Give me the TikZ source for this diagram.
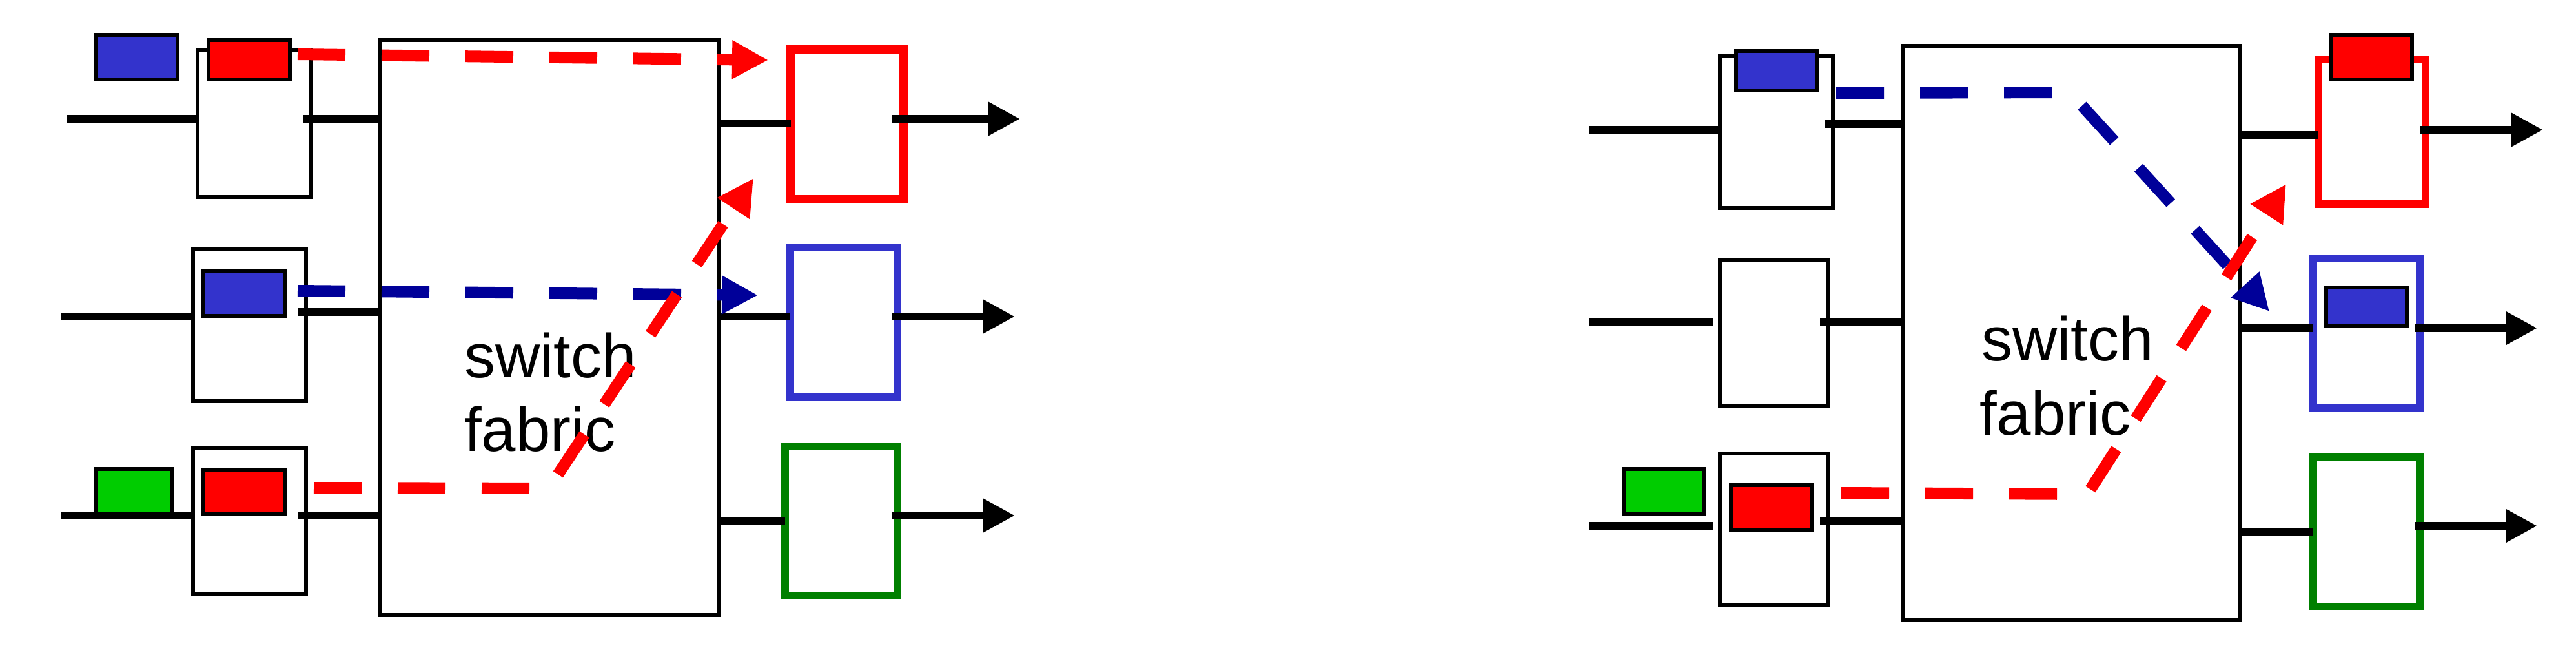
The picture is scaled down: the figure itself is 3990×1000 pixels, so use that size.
\documentclass[tikz,border=0pt]{standalone}
\usepackage{fontspec}
\setmainfont{Liberation Sans}
\usetikzlibrary{arrows.meta,calc}
\definecolor{pred}{RGB}{255,0,0}
\definecolor{pblue}{RGB}{51,51,204}
\definecolor{dblue}{RGB}{0,0,153}
\definecolor{pgreen}{RGB}{0,204,0}
\definecolor{dgreen}{RGB}{0,128,0}
\begin{document}
\begin{tikzpicture}[x=1pt,y=-1pt,
 wire/.style={line width=12.5pt},
 outwire/.style={wire,-{Triangle[length=49pt,width=49pt]}},
 portbox/.style={draw,line width=6pt,inner sep=0pt,outer sep=0pt},
 fabbox/.style={draw,line width=6pt,inner sep=0pt,outer sep=0pt},
 packet/.style={draw,line width=6pt,inner sep=0pt,outer sep=0pt},
 outbox/.style={draw,line width=12.5pt,inner sep=0pt,outer sep=0pt},
 flow/.style={line width=18pt,dash pattern=on 74pt off 56pt,-{Triangle[length=56pt,width=56pt]}},
 lbl/.style={inner sep=0pt,anchor=base west,font=\fontsize{96}{114}\selectfont}
]
\useasboundingbox[fill=white] (0,0) rectangle (3990,1000);

% ---------------- LEFT PANEL ----------------
\node[fabbox,minimum width=524pt,minimum height=890pt] (fabL) at (851,507) {};
\node[portbox,minimum width=176pt,minimum height=227pt] (inL1) at (394,191.5) {};
\node[portbox,minimum width=175pt,minimum height=235pt] (inL2) at (386.5,503.5) {};
\node[portbox,minimum width=175pt,minimum height=226pt] (inL3) at (386.5,806) {};
\node[outbox,draw=pred,minimum width=175pt,minimum height=232pt] (outL1) at (1312,192.5) {};
\node[outbox,draw=pblue,minimum width=166pt,minimum height=232pt] (outL2) at (1307,499) {};
\node[outbox,draw=dgreen,minimum width=174pt,minimum height=231pt] (outL3) at (1303,806.5) {};

\coordinate (iL1) at (104,184);
\coordinate (iL2) at (95,490);
\coordinate (iL3) at (95,798);
\draw[wire] (iL1) -- (iL1 -| inL1.west);
\draw[wire] (iL2) -- (iL2 -| inL2.west);
\draw[wire] (iL3) -- (iL3 -| inL3.west);
\draw[wire] ($(iL1 -| inL1.east)+(-13,0)$) -- (iL1 -| fabL.west);
\draw[wire] ($(iL2 -| inL2.east)+(-13,-7)$) -- ($(iL2 -| fabL.west)+(0,-7)$);
\draw[wire] ($(iL3 -| inL3.east)+(-13,0)$) -- (iL3 -| fabL.west);

\coordinate (oL1) at (1580,184);
\coordinate (oL2) at (1572,490);
\coordinate (oL3) at (1572,798);
\draw[wire] ($(fabL.east |- oL1)+(0,7)$) -- ($(outL1.west |- oL1)+(0,7)$);
\draw[wire] (fabL.east |- oL2) -- (outL2.west |- oL2);
\draw[wire] ($(fabL.east |- oL3)+(0,8)$) -- ($(outL3.west |- oL3)+(0,8)$);
\draw[outwire] ($(outL1.east |- oL1)+(-18,0)$) -- (oL1);
\draw[outwire] ($(outL2.east |- oL2)+(-8,0)$) -- (oL2);
\draw[outwire] ($(outL3.east |- oL3)+(-8,0)$) -- (oL3);

\node[packet,fill=pblue,minimum width=126pt,minimum height=69pt] (pL0) at (212,88.5) {};
\node[packet,fill=pred,minimum width=126pt,minimum height=61pt] (pL1) at (386,93) {};
\node[packet,fill=pblue,minimum width=126pt,minimum height=70pt] (pL2) at (378,454) {};
\node[packet,fill=pred,minimum width=126pt,minimum height=68pt] (pL3) at (378,761) {};
\node[packet,fill=pgreen,minimum width=118pt,minimum height=69pt] (pL4) at (208,760.5) {};

\node[lbl] (swL1) at (719,584) {switch};
\node[lbl] (swL2) at (719,698) {fabric};

\coordinate (tL1) at (1190,93);
\coordinate (tL2) at (1174,457);
\coordinate (tL3) at (1167,276);
\draw[flow,pred] ($(pL1.east)+(12,-9)$) -- (tL1);
\draw[flow,dblue] ($(pL2.east)+(20,-4)$) -- (tL2);
\draw[flow,pred] ($(pL3.east)+(45,-6)$) -- (850,756) -- (tL3);

% ---------------- RIGHT PANEL ----------------
\node[fabbox,minimum width=523pt,minimum height=889pt] (fabR) at (3208.5,515.5) {};
\node[portbox,minimum width=175pt,minimum height=235pt] (inR1) at (2751.5,204.5) {};
\node[portbox,minimum width=168pt,minimum height=226pt] (inR2) at (2748,516) {};
\node[portbox,minimum width=168pt,minimum height=234pt] (inR3) at (2748,819) {};
\node[outbox,draw=pred,minimum width=166pt,minimum height=224pt] (outR1) at (3674,204) {};
\node[outbox,draw=pblue,minimum width=165pt,minimum height=232pt] (outR2) at (3665.5,516) {};
\node[outbox,draw=dgreen,minimum width=165pt,minimum height=232pt] (outR3) at (3665.5,823) {};

\coordinate (iR1) at (2461,201);
\coordinate (iR2) at (2461,499);
\coordinate (iR3) at (2461,814);
\draw[wire] (iR1) -- (iR1 -| inR1.west);
\draw[wire] (iR2) -- ($(iR2 -| inR2.west)+(-10,0)$);
\draw[wire] (iR3) -- ($(iR3 -| inR3.west)+(-10,0)$);
\draw[wire] ($(iR1 -| inR1.east)+(-12,-9)$) -- ($(iR1 -| fabR.west)+(0,-9)$);
\draw[wire] ($(iR2 -| inR2.east)+(-13,0)$) -- (iR2 -| fabR.west);
\draw[wire] ($(iR3 -| inR3.east)+(-13,-8)$) -- ($(iR3 -| fabR.west)+(0,-8)$);

\coordinate (oR1) at (3939,201);
\coordinate (oR2) at (3930,508);
\coordinate (oR3) at (3930,814);
\draw[wire] ($(fabR.east |- oR1)+(0,8)$) -- ($(outR1.west |- oR1)+(0,8)$);
\draw[wire] (fabR.east |- oR2) -- (outR2.west |- oR2);
\draw[wire] ($(fabR.east |- oR3)+(0,9)$) -- ($(outR3.west |- oR3)+(0,9)$);
\draw[outwire] ($(outR1.east |- oR1)+(-9,0)$) -- (oR1);
\draw[outwire] ($(outR2.east |- oR2)+(-8,0)$) -- (oR2);
\draw[outwire] ($(outR3.east |- oR3)+(-8,0)$) -- (oR3);

\node[packet,fill=pblue,minimum width=126pt,minimum height=61pt] (pR1) at (2752,109.5) {};
\node[packet,fill=pgreen,minimum width=125pt,minimum height=69pt] (pR4) at (2577.5,760.5) {};
\node[packet,fill=pred,minimum width=126pt,minimum height=69pt] (pR3) at (2744,785.5) {};
\node[packet,fill=pred,minimum width=125pt,minimum height=69pt] (pR5) at (3673.5,88.5) {};
\node[packet,fill=pblue,minimum width=125pt,minimum height=60pt] (pR2) at (3665.5,475) {};

\node[lbl] (swR1) at (3069,558) {switch};
\node[lbl] (swR2) at (3066,673) {fabric};

\coordinate (tR1) at (3515,482);
\coordinate (tR2) at (3541,285);
\draw[flow,dblue] ($(pR1.east)+(29,34.5)$) -- (3206,143) -- (tR1);
\draw[flow,pred] ($(pR3.east)+(45,-22.5)$) -- (3233,765) -- (tR2);
\end{tikzpicture}
\end{document}
